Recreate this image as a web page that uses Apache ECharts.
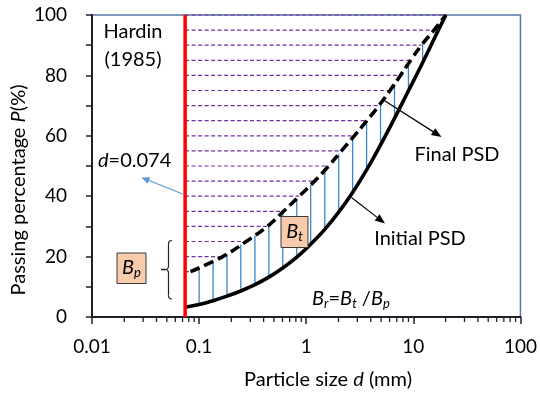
<!DOCTYPE html>
<html>
<head>
<meta charset="utf-8">
<script src="https://cdn.jsdelivr.net/npm/echarts@6/dist/echarts.min.js"></script>
<style>
  html, body { margin: 0; padding: 0; background: #fff; }
  #chart { width: 540px; height: 400px; }
</style>
</head>
<body>
<div id="chart"></div>
<script>
// Size limit (mm) used for the breakage potential
const cutoffD = 0.074;

// Final PSD (dashed): particle size at each 5 % passing level
const finalP = [15, 20, 25, 30, 35, 40, 45, 50, 55, 60, 65, 70, 75, 80, 85, 90, 95, 100];
const finalD = [0.083, 0.166, 0.275, 0.433, 0.615, 0.860, 1.20, 1.62, 2.13, 2.81, 3.68, 4.78, 6.06, 7.58, 9.45, 11.9, 15.6, 20.1];

// Initial PSD (solid)
const initialD = [0.074, 0.1, 0.135, 0.182, 0.245, 0.332, 0.448, 0.604, 0.816, 1.1, 1.49, 2.01, 2.71, 3.66, 4.94, 6.67, 9.0, 12.2, 16.4, 20.1];
const initialP = [3.2, 4.1, 5.4, 6.9, 8.6, 10.7, 13.2, 16.2, 19.8, 24.1, 29.0, 34.7, 41.2, 48.7, 57.0, 65.8, 74.9, 84.2, 93.6, 100];

// Vertical hatching between the two curves (B_t area): lower ends sit on the initial PSD
const hatchD      = [0.1, 0.135, 0.182, 0.245, 0.332, 0.448, 0.604, 0.816, 1.1, 1.49, 2.01, 2.71, 3.66, 4.94, 6.67, 9.0, 12.2, 16.4];
const hatchTop    = [16.0, 18.3, 20.8, 23.9, 27.1, 30.5, 34.7, 39.2, 43.7, 48.5, 53.9, 59.2, 64.9, 70.7, 77.1, 83.9, 90.4, 96.0];
const hatchBottom = [4.1, 5.4, 6.9, 8.6, 10.7, 13.2, 16.2, 19.8, 24.1, 29.0, 34.7, 41.2, 48.7, 57.0, 65.8, 74.9, 84.2, 93.6];

// Axis tick labels
const xTickLabels = ['0.01', '0.1', '1', '10', '100'];
const yTickLabels = ['0', '20', '40', '60', '80', '100'];

// Minor tick positions on the log axis (2..9 within each decade)
const minorTicks = [];
for (let e = -2; e < 2; e++) {
  for (let k = 2; k <= 9; k++) minorTicks.push(k * Math.pow(10, e));
}

const FONT = 'Lato';
const INK = '#000000';

function arrow(x1, y1, x2, y2, color, len, wid, lw) {
  const a = Math.atan2(y2 - y1, x2 - x1);
  const bx = x2 - len * Math.cos(a), by = y2 - len * Math.sin(a);
  const nx = -Math.sin(a) * wid / 2, ny = Math.cos(a) * wid / 2;
  return [
    { type: 'line', z: 100, shape: { x1: x1, y1: y1, x2: bx, y2: by }, style: { stroke: color, lineWidth: lw } },
    { type: 'polygon', z: 100, shape: { points: [[x2, y2], [bx + nx, by + ny], [bx - nx, by - ny]] }, style: { fill: color } }
  ];
}

// curly brace opening to the right, tip pointing left
function brace(x, top, mid, bottom, r) {
  const st = { stroke: '#222', lineWidth: 1.2, fill: null };
  const seg = (x1, y1, cx, cy, x2, y2) => ({ type: 'bezierCurve', z: 100,
    shape: { x1: x1, y1: y1, cpx1: cx, cpy1: cy, x2: x2, y2: y2 }, style: st });
  const ln = (x1, y1, x2, y2) => ({ type: 'line', z: 100, shape: { x1: x1, y1: y1, x2: x2, y2: y2 }, style: st });
  return [
    seg(x + r, top, x, top, x, top + r),
    ln(x, top + r, x, mid - r),
    seg(x, mid - r, x, mid, x - r, mid),
    seg(x - r, mid, x, mid, x, mid + r),
    ln(x, mid + r, x, bottom - r),
    seg(x, bottom - r, x, bottom, x + r, bottom)
  ];
}

function subLabel(x, y, sub) {
  return {
    type: 'text', z: 101, x: x, y: y,
    style: {
      text: '{b|B}{s|' + sub + '}',
      align: 'center', verticalAlign: 'middle',
      rich: {
        b: { fontFamily: FONT, fontSize: 20, fontStyle: 'italic', fill: INK, lineHeight: 22 },
        s: { fontFamily: FONT, fontSize: 13, fontStyle: 'italic', fill: INK, lineHeight: 13, verticalAlign: 'bottom' }
      }
    }
  };
}

const chart = echarts.init(document.getElementById('chart'), null, { renderer: 'canvas' });

const richBase = {
  i: { fontFamily: FONT, fontSize: 20, fontStyle: 'italic', fill: INK },
  n: { fontFamily: FONT, fontSize: 20, fill: INK }
};

const option = {
  backgroundColor: '#ffffff',
  animation: false,
  grid: {
    left: 92, right: 18, top: 15, bottom: 83,
    show: true, borderColor: '#5677a8', borderWidth: 1.5, backgroundColor: 'transparent'
  },
  xAxis: {
    type: 'log', logBase: 10, min: 0.01, max: 100,
    axisLine: { show: true, onZero: false, lineStyle: { color: '#1f1f2a', width: 2 } },
    axisTick: { show: true, inside: false, length: 7, lineStyle: { color: '#1f1f2a', width: 1.5 } },
    minorTick: { show: false },
    splitLine: { show: false },
    axisLabel: {
      fontFamily: FONT, fontSize: 19, color: INK, margin: 20,
      formatter: v => xTickLabels[Math.round(Math.log10(v)) + 2]
    }
  },
  yAxis: {
    type: 'value', min: 0, max: 100, interval: 10,
    axisLine: { show: true, lineStyle: { color: '#1f1f2a', width: 2 } },
    axisTick: { show: true, inside: false, length: 6, lineStyle: { color: '#1f1f2a', width: 1.5 } },
    splitLine: { show: false },
    axisLabel: {
      fontFamily: FONT, fontSize: 19, color: INK, margin: 25,
      formatter: v => (v % 20 === 0 ? yTickLabels[v / 20] : '')
    }
  },
  series: [
    {
      // purple dashed levels from the size limit to the final PSD
      type: 'custom', clip: false, z: 2,
      encode: { x: [0, 2], y: 1 },
      data: finalP.map((p, i) => [cutoffD, p, finalD[i]]),
      renderItem: (params, api) => {
        const a = api.coord([api.value(0), api.value(1)]);
        const b = api.coord([api.value(2), api.value(1)]);
        return { type: 'line', shape: { x1: a[0], y1: a[1], x2: b[0], y2: b[1] },
          style: { stroke: '#7030A0', lineWidth: 1.2, lineDash: [4, 2.5] } };
      }
    },
    {
      // blue vertical hatching
      type: 'custom', clip: false, z: 3,
      encode: { x: 0, y: [1, 2] },
      data: hatchD.map((d, i) => [d, hatchBottom[i], hatchTop[i]]),
      renderItem: (params, api) => {
        const a = api.coord([api.value(0), api.value(1)]);
        const b = api.coord([api.value(0), api.value(2)]);
        return { type: 'line', shape: { x1: a[0], y1: a[1], x2: b[0], y2: b[1] },
          style: { stroke: '#3a87c9', lineWidth: 1.3 } };
      }
    },
    {
      name: 'Initial PSD', type: 'line', clip: false, z: 5,
      data: initialD.map((d, i) => [d, initialP[i]]),
      smooth: 0.4, showSymbol: false, symbol: 'none',
      lineStyle: { color: '#000', width: 3.6 }
    },
    {
      name: 'Final PSD', type: 'line', clip: false, z: 5,
      data: finalD.map((d, i) => [d, finalP[i]]),
      smooth: 0.4, showSymbol: false, symbol: 'none',
      lineStyle: { color: '#000', width: 3.6, type: [10, 5], cap: 'butt' }
    },
    {
      name: 'limit', type: 'line', clip: false, z: 6,
      data: [[cutoffD, 0], [cutoffD, 100]],
      showSymbol: false, symbol: 'none',
      lineStyle: { color: '#ff0000', width: 3.5 }
    },
    {
      // minor ticks of the log axis
      type: 'custom', clip: false, z: 7, silent: true,
      encode: { x: 0, y: 1 },
      data: minorTicks.map(v => [v, 0]),
      renderItem: (params, api) => {
        const p = api.coord([api.value(0), 0]);
        return { type: 'line', shape: { x1: p[0], y1: p[1], x2: p[0], y2: p[1] + 5 },
          style: { stroke: '#1f1f2a', lineWidth: 1.3 } };
      }
    }
  ],
  graphic: [
    // axis titles
    { type: 'text', z: 100, x: 19, y: 190, rotation: Math.PI / 2,
      style: { text: 'Passing percentage {i|P}(%)', align: 'center', verticalAlign: 'middle',
        fontFamily: FONT, fontSize: 20, fill: INK, rich: richBase } },
    { type: 'text', z: 100, x: 328, y: 380,
      style: { text: 'Particle size {i|d} (mm)', align: 'center', verticalAlign: 'middle',
        fontFamily: FONT, fontSize: 20, fill: INK, rich: richBase } },
    // source
    { type: 'text', z: 100, x: 133, y: 32,
      style: { text: 'Hardin', align: 'center', verticalAlign: 'middle', fontFamily: FONT, fontSize: 20, fill: INK } },
    { type: 'text', z: 100, x: 133, y: 60,
      style: { text: '(1985)', align: 'center', verticalAlign: 'middle', fontFamily: FONT, fontSize: 20, fill: INK } },
    // size limit
    { type: 'text', z: 100, x: 98, y: 161,
      style: { text: '{i|d}{n|=0.074}', align: 'left', verticalAlign: 'middle', rich: richBase } },
    ...arrow(184, 194.5, 141.5, 177.5, '#5b9bd5', 8, 7, 1.2),
    // B_p box and brace
    { type: 'rect', z: 100, shape: { x: 117, y: 253, width: 29, height: 30.5 },
      style: { fill: '#f8cbad', stroke: '#3a3a3a', lineWidth: 1 } },
    subLabel(131.5, 268, 'p'),
    ...brace(168.5, 240.5, 269.5, 299, 3.5),
    { type: 'line', z: 100, shape: { x1: 161, y1: 269.5, x2: 165, y2: 269.5 }, style: { stroke: '#222', lineWidth: 1.6 } },
    // B_t box
    { type: 'rect', z: 100, shape: { x: 281, y: 216.5, width: 27, height: 31 },
      style: { fill: '#f8cbad', stroke: '#3a3a3a', lineWidth: 1 } },
    subLabel(294.5, 232, 't'),
    // curve labels
    { type: 'text', z: 100, x: 457, y: 155,
      style: { text: 'Final PSD', align: 'center', verticalAlign: 'middle', fontFamily: FONT, fontSize: 20, fill: INK } },
    ...arrow(383.5, 100, 441.5, 137, '#000', 10, 8, 1.2),
    { type: 'text', z: 100, x: 420, y: 239,
      style: { text: 'Initial PSD', align: 'center', verticalAlign: 'middle', fontFamily: FONT, fontSize: 20, fill: INK } },
    ...arrow(351.5, 197.5, 385, 223.5, '#000', 10, 8, 1.2),
    // ratio
    { type: 'text', z: 100, x: 312, y: 299,
      style: { text: '{b|B}{s|r}{n|=}{b|B}{s|t}{n| /}{b|B}{s|p}', align: 'left', verticalAlign: 'middle',
        rich: {
          b: { fontFamily: FONT, fontSize: 20, fontStyle: 'italic', fill: INK, lineHeight: 22 },
          n: { fontFamily: FONT, fontSize: 20, fill: INK, lineHeight: 22 },
          s: { fontFamily: FONT, fontSize: 13, fontStyle: 'italic', fill: INK, lineHeight: 13, verticalAlign: 'bottom' }
        } } }
  ]
};

chart.setOption(option);
</script>
</body>
</html>
